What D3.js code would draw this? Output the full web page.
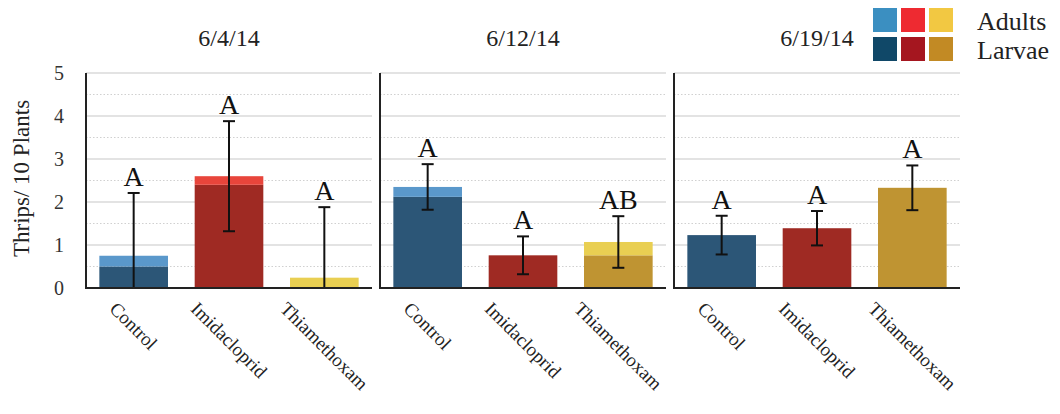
<!DOCTYPE html>
<html>
<head>
<meta charset="utf-8">
<script src="https://cdn.jsdelivr.net/npm/d3@7"></script>
<style>
  html, body { margin: 0; padding: 0; background: #fff; }
  svg { display: block; font-family: "Liberation Serif", "Times New Roman", serif; }
</style>
</head>
<body>
<svg id="chart" width="1060" height="414"></svg>
<script>
// Sampling dates (one panel each) and treatments (one bar each)
const dates = ["6/4/14", "6/12/14", "6/19/14"];
const treatments = ["Control", "Imidacloprid", "Thiamethoxam"];

// Mean thrips per 10 plants, split into larvae (bottom) and adults (stacked on top)
const larvae = [
  [0.50, 2.40, 0.00],
  [2.12, 0.76, 0.76],
  [1.23, 1.39, 2.33]
];
const adults = [
  [0.25, 0.20, 0.24],
  [0.23, 0.00, 0.31],
  [0.00, 0.00, 0.00]
];
// Error bar half-widths around the total
const errors = [
  [1.46, 1.28, 1.64],
  [0.53, 0.44, 0.60],
  [0.45, 0.40, 0.52]
];
// Mean separation letters
const letters = [
  ["A", "A", "A"],
  ["A", "A", "AB"],
  ["A", "A", "A"]
];
const yTicks = [0, 1, 2, 3, 4, 5];
const legendRows = ["Adults", "Larvae"];

// Colours per treatment
const adultFill = ["#5a98cb", "#e8453b", "#e9cf52"];
const larvaeFill = ["#2c5677", "#9f2a23", "#bf9432"];
const legendAdult = ["#3b8fc1", "#ee2a31", "#f2c842"];
const legendLarvae = ["#104868", "#a5161f", "#c28a24"];

const svg = d3.select("#chart");

const panelX = [86, 380, 674];
const panelW = 286;
const plotTop = 73, plotBottom = 288;

const y = d3.scaleLinear().domain([0, 5]).range([plotBottom, plotTop]);
const x = d3.scaleBand().domain(treatments).range([0, panelW])
  .paddingInner(0.28).paddingOuter(0.14);

const halfTicks = d3.range(0.5, 5, 1);

dates.forEach((date, p) => {
  const g = svg.append("g").attr("transform", `translate(${panelX[p]},0)`);

  // gridlines: solid at whole numbers, dotted at halves
  g.selectAll("line.grid").data(yTicks.filter(v => v > 0)).join("line")
    .attr("class", "grid")
    .attr("x1", 0).attr("x2", panelW)
    .attr("y1", d => y(d)).attr("y2", d => y(d))
    .attr("stroke", "#dadada").attr("stroke-width", 1.5);
  g.selectAll("line.half").data(halfTicks).join("line")
    .attr("class", "half")
    .attr("x1", 0).attr("x2", panelW)
    .attr("y1", d => y(d)).attr("y2", d => y(d))
    .attr("stroke", "#d0d0d0").attr("stroke-width", 1.2)
    .attr("stroke-dasharray", "1.5,2");

  // stacked bars
  treatments.forEach((t, i) => {
    const l = larvae[p][i], a = adults[p][i];
    if (l > 0) {
      g.append("rect")
        .attr("x", x(t)).attr("width", x.bandwidth())
        .attr("y", y(l)).attr("height", y(0) - y(l))
        .attr("fill", larvaeFill[i]);
    }
    if (a > 0) {
      g.append("rect")
        .attr("x", x(t)).attr("width", x.bandwidth())
        .attr("y", y(l + a)).attr("height", y(l) - y(l + a))
        .attr("fill", adultFill[i]);
    }

    // error bar
    const mean = l + a, e = errors[p][i];
    const cx = x(t) + x.bandwidth() / 2;
    const hi = mean + e, lo = Math.max(0, mean - e);
    g.append("line")
      .attr("x1", cx).attr("x2", cx)
      .attr("y1", y(hi)).attr("y2", y(lo))
      .attr("stroke", "#111").attr("stroke-width", 2);
    g.append("line")
      .attr("x1", cx - 6).attr("x2", cx + 6)
      .attr("y1", y(hi)).attr("y2", y(hi))
      .attr("stroke", "#111").attr("stroke-width", 2);
    if (lo > 0) {
      g.append("line")
        .attr("x1", cx - 6).attr("x2", cx + 6)
        .attr("y1", y(lo)).attr("y2", y(lo))
        .attr("stroke", "#111").attr("stroke-width", 2);
    }

    // letter above the error bar
    g.append("text")
      .attr("x", cx).attr("y", y(hi) - 7)
      .attr("text-anchor", "middle")
      .attr("font-size", 28)
      .attr("fill", "#111")
      .text(letters[p][i]);

    // rotated category label, centred on the bar
    const lab = g.append("text")
      .attr("font-size", 19)
      .attr("fill", "#222")
      .attr("text-anchor", "middle")
      .attr("dominant-baseline", "central")
      .text(t);
    const len = lab.node().getComputedTextLength();
    const ext = (len + 15) / Math.SQRT2;
    lab.attr("transform", `translate(${cx},${300 + ext / 2}) rotate(45)`);
  });

  // axis lines
  g.append("line")
    .attr("x1", 0).attr("x2", 0).attr("y1", plotTop).attr("y2", plotBottom + 1)
    .attr("stroke", "#222").attr("stroke-width", 2);
  g.append("line")
    .attr("x1", -1).attr("x2", panelW).attr("y1", plotBottom).attr("y2", plotBottom)
    .attr("stroke", "#222").attr("stroke-width", 2);

  // panel title
  g.append("text")
    .attr("x", panelW / 2).attr("y", 46)
    .attr("text-anchor", "middle")
    .attr("font-size", 24)
    .attr("fill", "#222")
    .text(date);
});

// y tick labels on the first panel
svg.append("g").selectAll("text").data(yTicks).join("text")
  .attr("x", 64).attr("y", d => y(d))
  .attr("text-anchor", "end")
  .attr("dominant-baseline", "central")
  .attr("font-size", 20)
  .attr("fill", "#333")
  .text(d => d);

// y axis title
svg.append("text")
  .attr("transform", `translate(29,${(plotTop + plotBottom) / 2 - 2}) rotate(-90)`)
  .attr("text-anchor", "middle")
  .attr("font-size", 23)
  .attr("fill", "#222")
  .text("Thrips/ 10 Plants");

// legend: 3 x 2 colour grid
const legend = svg.append("g").attr("transform", "translate(873,8)");
[legendAdult, legendLarvae].forEach((cols, r) => {
  cols.forEach((c, k) => {
    legend.append("rect")
      .attr("x", k * 28).attr("y", r * 29)
      .attr("width", 24).attr("height", 24)
      .attr("fill", c);
  });
  legend.append("text")
    .attr("x", 104).attr("y", r * 29 + 22)
    .attr("font-size", 26)
    .attr("fill", "#222")
    .text(legendRows[r]);
});
</script>
</body>
</html>
